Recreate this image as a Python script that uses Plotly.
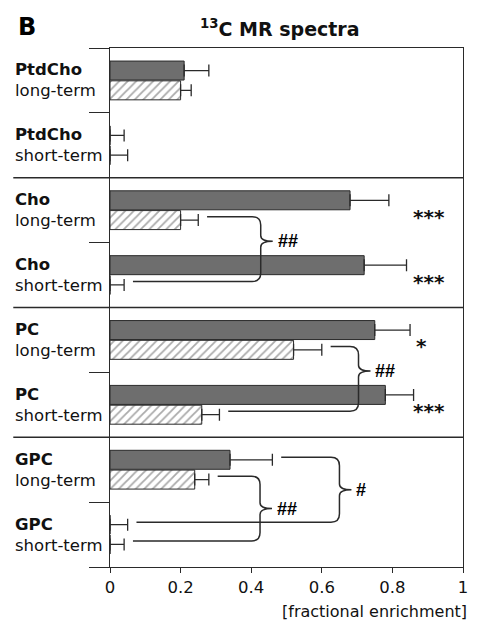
import plotly.graph_objects as go

# ---- data ----
metabolites = ["PtdCho", "PtdCho", "Cho", "Cho", "PC", "PC", "GPC", "GPC"]
terms = ["long-term", "short-term", "long-term", "short-term",
         "long-term", "short-term", "long-term", "short-term"]
dark_vals = [0.21, 0.0, 0.68, 0.72, 0.75, 0.78, 0.34, 0.0]
dark_err = [0.07, 0.04, 0.11, 0.12, 0.10, 0.08, 0.12, 0.05]
hatch_vals = [0.20, 0.0, 0.20, 0.0, 0.52, 0.26, 0.24, 0.0]
hatch_err = [0.03, 0.05, 0.05, 0.04, 0.08, 0.05, 0.04, 0.04]
x_ticks = [0, 0.2, 0.4, 0.6, 0.8, 1.0]
x_tick_labels = ["0", "0.2", "0.4", "0.6", "0.8", "1"]

# significance stars: (category index, text)
stars = [(2, "***"), (3, "***"), (4, "*"), (5, "***")]
# brackets: (top cat, top series, bottom cat, bottom series, label)
brackets = [
    (2, "h", 3, "h", "##"),
    (4, "h", 5, "h", "##"),
    (6, "d", 7, "d", "#"),
    (6, "h", 7, "h", "##"),
]

FONT = "DejaVu Sans"
INK = "#2a2a2a"
pos = list(range(len(metabolites)))

fig = go.Figure()
fig.add_trace(go.Bar(
    y=pos, x=dark_vals, orientation="h",
    marker=dict(color="#6e6e6e", line=dict(color=INK, width=1)),
    error_x=dict(type="data", symmetric=False, array=dark_err,
                 arrayminus=[0] * len(dark_err), color=INK, thickness=1.3, width=6),
    showlegend=False, hoverinfo="skip",
))
fig.add_trace(go.Bar(
    y=pos, x=hatch_vals, orientation="h",
    marker=dict(color="white", line=dict(color=INK, width=1),
                pattern=dict(shape="/", fgcolor="#555555", bgcolor="white",
                             size=6, solidity=0.3)),
    error_x=dict(type="data", symmetric=False, array=hatch_err,
                 arrayminus=[0] * len(hatch_err), color=INK, thickness=1.3, width=6),
    showlegend=False, hoverinfo="skip",
))

annotations = []
shapes = []

# category labels
for i, (m, t) in enumerate(zip(metabolites, terms)):
    annotations.append(dict(
        xref="paper", yref="y", x=-0.274, y=i, xanchor="left", yanchor="middle",
        text=f"<b>{m}</b><br>{t}", align="left", showarrow=False,
        font=dict(family=FONT, size=16.5, color="#111"),
    ))

# stars
for cat, txt in stars:
    annotations.append(dict(
        xref="x", yref="y", x=0.905 if len(txt) > 1 else 0.883, y=cat + 0.1,
        text=f"<b>{txt}</b>", showarrow=False, xanchor="center", yanchor="middle",
        font=dict(family=FONT, size=20, color="#111"),
    ))

# brackets
brace_xs = [0.427, 0.704, 0.65, 0.425]
tip_fracs = [0.38, 0.38, 0.5, 0.5]
for (tc, ts, bc, bs, lab), bx, tf in zip(brackets, brace_xs, tip_fracs):
    def end(c, s):
        v = dark_vals[c] + dark_err[c] if s == "d" else hatch_vals[c] + hatch_err[c]
        off = -0.19 if s == "d" else 0.1
        return v + 0.025, c + off
    x1, y1 = end(tc, ts)
    x2, y2 = end(bc, bs)
    ym = y1 + (y2 - y1) * tf
    tipx = bx + 0.034
    rx, ry, rt = 0.024, 0.13, 0.09
    path = (f"M {x1},{y1} L {bx - rx},{y1} Q {bx},{y1} {bx},{y1 + ry} "
            f"L {bx},{ym - rt} Q {bx},{ym} {tipx},{ym} "
            f"Q {bx},{ym} {bx},{ym + rt} L {bx},{y2 - ry} "
            f"Q {bx},{y2} {bx - rx},{y2} L {x2},{y2}")
    shapes.append(dict(type="path", xref="x", yref="y", path=path,
                       line=dict(color=INK, width=1.5)))
    annotations.append(dict(
        xref="x", yref="y", x=tipx + 0.008, y=ym, xanchor="left", yanchor="middle",
        text=f"<b>{lab}</b>", showarrow=False,
        font=dict(family="Liberation Sans", size=18, color="#000"),
    ))

# panel separators
for yb in [1.5, 3.5, 5.5]:
    shapes.append(dict(type="line", xref="paper", yref="y", x0=-0.274, x1=1,
                       y0=yb, y1=yb, line=dict(color=INK, width=1.3)))

# title, panel letter, axis caption
annotations.append(dict(xref="paper", yref="paper", x=0.483, y=1.0385,
                        text="<b><sup>13</sup>C MR spectra</b>", showarrow=False,
                        xanchor="center", yanchor="middle",
                        font=dict(family=FONT, size=19, color="#111")))
annotations.append(dict(xref="paper", yref="paper", x=-0.265, y=1.04,
                        text="<b>B</b>", showarrow=False,
                        xanchor="left", yanchor="middle",
                        font=dict(family=FONT, size=24, color="#000")))
annotations.append(dict(xref="paper", yref="paper", x=1.016, y=-0.086,
                        text="[fractional enrichment]", showarrow=False,
                        xanchor="right", yanchor="middle",
                        font=dict(family=FONT, size=16, color="#111")))

fig.update_layout(
    width=477, height=621,
    margin=dict(l=110, r=9, t=48, b=54),
    paper_bgcolor="white", plot_bgcolor="white",
    barmode="group", bargap=0.39, bargroupgap=0.04,
    annotations=annotations, shapes=shapes,
    font=dict(family=FONT, color="#111"),
)
fig.update_xaxes(range=[0, 1], tickvals=x_ticks, ticktext=x_tick_labels,
                 ticks="outside", ticklen=5, tickcolor=INK, tickwidth=1.3,
                 showline=True, linecolor=INK, linewidth=1.3, mirror=True,
                 showgrid=False, zeroline=False,
                 tickfont=dict(family=FONT, size=16.5, color="#111"))
fig.update_yaxes(range=[7.5, -0.5], tickvals=[-0.5 + k for k in range(9)],
                 ticks="outside", ticklen=20, tickcolor=INK, tickwidth=1.3,
                 showticklabels=False, showline=True, linecolor=INK, linewidth=1.3,
                 mirror=True, showgrid=False, zeroline=False)

fig.write_html("out.html",
               config={"displayModeBar": False},
               post_script="document.body.style.margin='0';"
                           "document.body.style.overflow='hidden';")
